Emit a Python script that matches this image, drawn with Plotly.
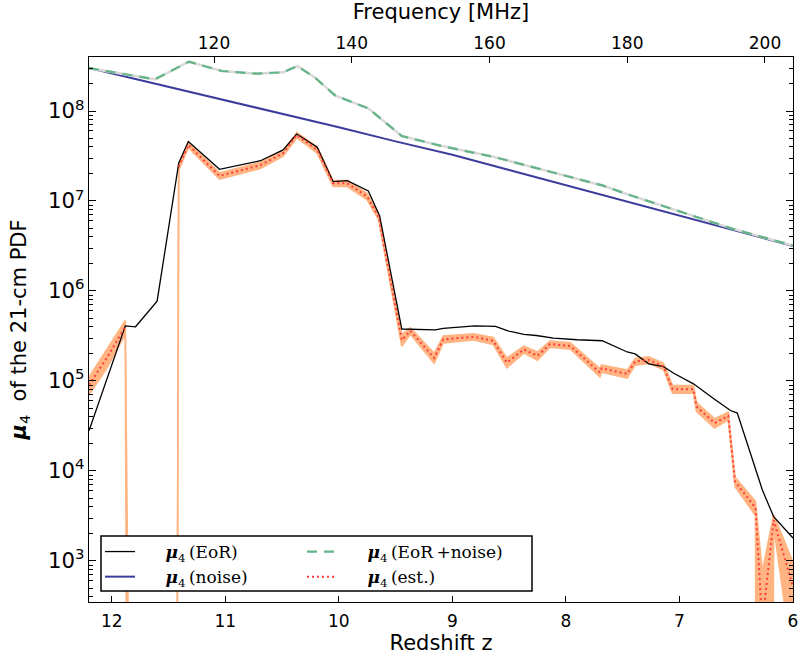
import plotly.graph_objects as go

# ---------------- data ----------------
z_eor = [12.2, 11.88, 11.79, 11.6, 11.41, 11.325, 11.05, 10.69, 10.49, 10.37, 10.19,
         10.05, 9.925, 9.74, 9.64, 9.445, 9.15, 9.08, 8.8, 8.62, 8.51, 8.37, 8.26,
         8.11, 7.90, 7.68, 7.46, 7.39, 7.27, 7.14, 7.05, 6.876, 6.70, 6.55, 6.49,
         6.33, 6.27, 6.17, 6.0]
mu_eor = [2.8e4, 4.1e5, 4.0e5, 7.7e5, 2.63e7, 4.57e7, 2.25e7, 2.8e7, 3.69e7, 5.55e7, 3.95e7,
          1.64e7, 1.68e7, 1.29e7, 6.8e6, 3.78e5, 3.69e5, 3.85e5, 4.1e5, 4.05e5, 3.6e5, 3.3e5, 3.2e5,
          3.0e5, 2.87e5, 2.8e5, 2.1e5, 2.0e5, 1.55e5, 1.44e5, 1.22e5, 9.3e4, 6.4e4, 4.7e4, 4.4e4,
          1.07e4, 6.2e3, 3.1e3, 1.8e3]

z_noise = [12.2, 11.5, 11.0, 10.5, 10.0, 9.5, 9.0, 8.5, 8.0, 7.5, 7.0, 6.5, 6.0]
mu_noise = [3.0e8, 1.86e8, 1.32e8, 9.3e7, 6.6e7, 4.6e7, 3.27e7, 2.21e7, 1.5e7, 1.01e7,
            6.9e6, 4.7e6, 3.16e6]

z_tot = [12.2, 11.62, 11.32, 11.03, 10.72, 10.49, 10.365, 10.21, 10.03, 9.74, 9.445,
         9.1, 8.64, 8.05, 7.67, 7.46, 6.53, 6.0]
mu_tot = [3.0e8, 2.25e8, 3.53e8, 2.78e8, 2.6e8, 2.69e8, 3.16e8, 2.35e8, 1.48e8, 1.07e8, 5.27e7,
          4.1e7, 3.1e7, 2.0e7, 1.48e7, 1.19e7, 4.9e6, 3.2e6]

z_est = [12.2, 12.05, 11.88, 11.79, 11.6, 11.5, 11.41, 11.325, 11.05, 10.69, 10.49, 10.37,
         10.19, 10.05, 9.925, 9.75, 9.65, 9.445, 9.37, 9.16, 9.08, 8.81, 8.64, 8.52, 8.37,
         8.25, 8.14, 7.96, 7.70, 7.685, 7.46, 7.39, 7.27, 7.14, 7.06, 6.876, 6.85, 6.69,
         6.57, 6.51, 6.33, 6.27, 6.17, 6.0]
mu_est = [9.0e4, 1.75e5, 4.0e5, -2e5, -3e6, -5e6, 2.4e7, 4.2e7, 1.9e7, 2.5e7, 3.4e7, 5.4e7,
          3.7e7, 1.57e7, 1.57e7, 1.12e7, 6.7e6, 2.85e5, 3.6e5, 1.8e5, 2.9e5, 3.1e5, 2.8e5, 1.6e5, 2.24e5,
          1.9e5, 2.57e5, 2.45e5, 1.24e5, 1.38e5, 1.2e5, 1.64e5, 1.71e5, 1.45e5, 8.1e4, 8.1e4, 5.2e4, 3.4e4,
          4.1e4, 7.6e3, 3.9e3, 200, 2.85e3, 520]
err_est = [2.0e4, 4.0e4, 7.0e4, 7.0e4, 1e6, 1e6, 2.0e6, 3.0e6, 1.5e6, 2.0e6, 2.5e6, 3.5e6,
           3.0e6, 1.2e6, 1.2e6, 9e5, 5e5, 4.2e4, 3.0e4, 2.3e4, 2.5e4, 2.5e4, 2.5e4, 2.0e4, 2.0e4,
           2.0e4, 2.0e4, 2.0e4, 1.3e4, 1.3e4, 1.2e4, 1.4e4, 1.4e4, 1.2e4, 8e3, 8e3, 6e3, 4e3,
           4e3, 9e2, 7e2, 560, 400, 450]

z_ticks = [12, 11, 10, 9, 8, 7, 6]
freq_ticks = [120, 140, 160, 180, 200]

# ---------------- derived ----------------
TINY = 1e-30  # non-positive values are clipped (as a log axis does)
band_hi = [m + e if m + e > 0 else TINY for m, e in zip(mu_est, err_est)]
band_lo = [m - e if m - e > 0 else TINY for m, e in zip(mu_est, err_est)]
est_line = [m if m > 0 else None for m in mu_est]

BAND = "#ffb482"
SANS = "DejaVu Sans"
SERIF = "DejaVu Serif"
MU = "<b><i>μ</i></b><sub>4</sub>"
PAD = "\u2003\u2002"

fig = go.Figure()

fig.add_trace(go.Scatter(x=z_est, y=band_lo, mode="lines", line=dict(color=BAND, width=1.6),
                         showlegend=False, hoverinfo="skip"))
fig.add_trace(go.Scatter(x=z_est, y=band_hi, mode="lines", line=dict(color=BAND, width=1.6),
                         fill="tonexty", fillcolor=BAND, showlegend=False, hoverinfo="skip"))

fig.add_trace(go.Scatter(x=z_eor, y=mu_eor, mode="lines", line=dict(color="black", width=1.3),
                         name=PAD + MU + "\u2009(EoR)", legend="legend"))
fig.add_trace(go.Scatter(x=z_noise, y=mu_noise, mode="lines", line=dict(color="#3c3c9c", width=2),
                         name=PAD + MU + "\u2009(noise)", legend="legend"))
fig.add_trace(go.Scatter(x=z_tot, y=mu_tot, mode="lines", line=dict(color="#d9d9d9", width=2.6),
                         showlegend=False, hoverinfo="skip"))
fig.add_trace(go.Scatter(x=z_tot, y=mu_tot, mode="lines",
                         line=dict(color="#63b487", width=2.2, dash="10px,7px"),
                         name=PAD + MU + "\u2009(EoR\u2009+noise)", legend="legend2"))
fig.add_trace(go.Scatter(x=z_est, y=est_line, mode="lines", connectgaps=False,
                         line=dict(color="#ff3b3b", width=2, dash="2px,3px"),
                         name=PAD + MU + "\u2009(est.)", legend="legend2"))

# empty carriers so that the top frequency axis and the right-hand y axis are drawn
fig.add_trace(go.Scatter(x=freq_ticks, y=[None] * len(freq_ticks), xaxis="x2", yaxis="y",
                         mode="lines", showlegend=False, hoverinfo="skip"))
fig.add_trace(go.Scatter(x=z_ticks, y=[None] * len(z_ticks), xaxis="x", yaxis="y2",
                         mode="lines", showlegend=False, hoverinfo="skip"))

W, H = 798, 655
L, R, T, B = 89, 5, 57, 53
pw, ph = W - L - R, H - T - B


def px(xp):
    return (xp - L) / pw


def py(yp):
    return (H - B - yp) / ph


axis_common = dict(showline=True, linecolor="black", linewidth=1.3, showgrid=False,
                   zeroline=False, ticks="inside", tickcolor="black", ticklabeloverflow="allow",
                   automargin=False, tickfont=dict(family=SANS, size=17, color="black"))
TFONT = dict(family=SANS, size=21, color="black")

fig.update_layout(
    width=W, height=H, margin=dict(l=L, r=R, t=T, b=B),
    paper_bgcolor="white", plot_bgcolor="white",
    xaxis=dict(range=[12.2, 5.9995], tickvals=z_ticks, ticklen=6, mirror=False, ticklabelstandoff=3,
               title=dict(text="Redshift z", font=TFONT), **axis_common),
    xaxis2=dict(range=[101.85, 204.07], tickvals=freq_ticks, ticklen=6, overlaying="x", side="top",
                anchor="y", title=dict(text="Frequency [MHz]", font=TFONT),
                **axis_common),
    yaxis=dict(type="log", range=[2.544, 8.6], dtick=1, exponentformat="power", ticklen=7,
               minor=dict(ticks="inside", ticklen=4, tickcolor="black", dtick="D1"),
               title=dict(text=MU + "  of the 21-cm PDF", font=TFONT),
               **axis_common),
    yaxis2=dict(type="log", range=[2.544, 8.6], dtick=1, overlaying="y", side="right", anchor="x",
                showticklabels=False, ticklen=7,
                minor=dict(ticks="inside", ticklen=4, tickcolor="black", dtick="D1"),
                **axis_common),
    legend=dict(x=px(100), y=py(534), xanchor="left", yanchor="top", bgcolor="rgba(0,0,0,0)",
                borderwidth=0, font=dict(family=SERIF, size=17, color="black"),
                tracegroupgap=0, traceorder="normal"),
    legend2=dict(x=px(302), y=py(534), xanchor="left", yanchor="top", bgcolor="rgba(0,0,0,0)",
                 borderwidth=0, font=dict(family=SERIF, size=17, color="black"),
                 tracegroupgap=0, traceorder="normal"),
    shapes=[dict(type="rect", xref="paper", yref="paper", x0=px(101), x1=px(532), y0=py(591), y1=py(536),
                 line=dict(color="black", width=1.5), fillcolor="white", layer="above")],
    showlegend=True,
)

fig.write_html("out.html")
